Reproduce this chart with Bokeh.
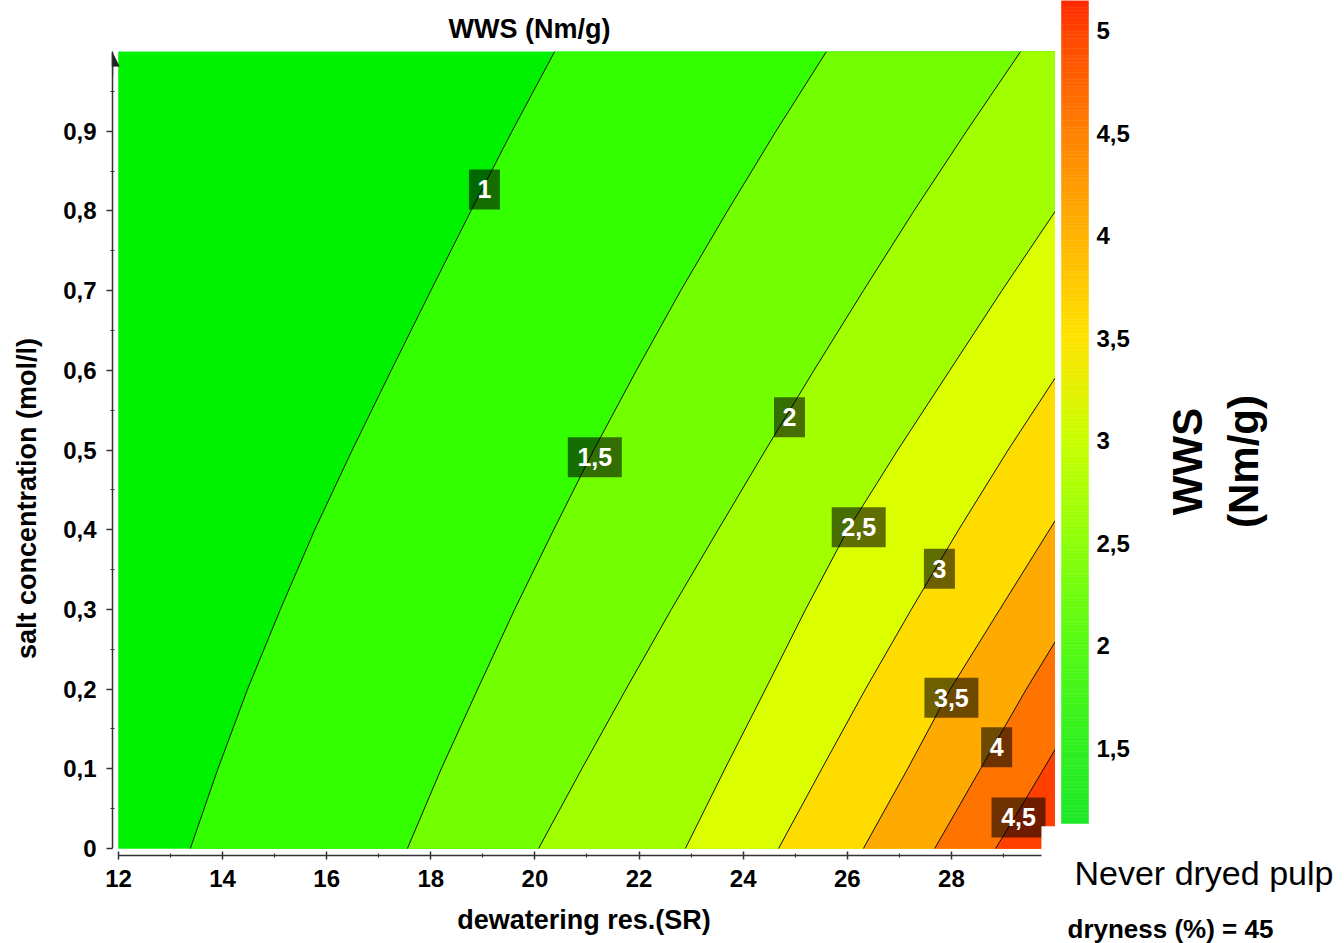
import numpy as np
from bokeh.plotting import figure
from bokeh.layouts import row
from bokeh.models import Range1d, FixedTicker, CustomJSTickFormatter, Arrow, NormalHead, ColumnDataSource
from bokeh.core.properties import value
from bokeh.embed import file_html
from bokeh.resources import INLINE

FONT = "Liberation Sans"

# ---------------- data ----------------
levels = [1, 1.5, 2, 2.5, 3, 3.5, 4, 4.5]
level_labels = ["1", "1,5", "2", "2,5", "3", "3,5", "4", "4,5"]

# contour lines: x (dewatering res. SR) where each level crosses a given y (salt mol/l)
c10_y = [0.0, 0.1, 0.2, 0.3, 0.4, 0.5, 0.6, 0.7, 0.8, 0.9, 1.0]
c10_x = [13.38, 13.91, 14.48, 15.11, 15.77, 16.49, 17.24, 18.00, 18.77, 19.56, 20.38]
c15_y = [0.0, 0.1, 0.2, 0.3, 0.4, 0.5, 0.6, 0.7, 0.8, 0.9, 1.0]
c15_x = [17.55, 18.20, 18.90, 19.61, 20.36, 21.13, 21.95, 22.80, 23.70, 24.63, 25.60]
c20_y = [0.0, 0.1, 0.2, 0.3, 0.4, 0.5, 0.6, 0.7, 0.8, 0.9, 1.0]
c20_x = [20.07, 20.90, 21.75, 22.62, 23.52, 24.43, 25.36, 26.31, 27.28, 28.29, 29.33]
c25_y = [0.0, 0.1, 0.2, 0.3, 0.4, 0.5, 0.6, 0.7, 0.80]
c25_x = [22.89, 23.65, 24.43, 25.20, 26.01, 26.97, 27.97, 28.97, 30.0]
c30_y = [0.0, 0.1, 0.2, 0.3, 0.4, 0.5, 0.591]
c30_x = [24.68, 25.51, 26.35, 27.23, 28.14, 29.09, 30.0]
c35_y = [0.0, 0.1, 0.2, 0.3, 0.412]
c35_x = [26.31, 27.16, 27.98, 28.93, 30.0]
c40_y = [0.0, 0.1, 0.2, 0.26]
c40_x = [27.68, 28.56, 29.44, 30.0]
c45_y = [0.0, 0.06, 0.125]
c45_x = [28.85, 29.41, 30.0]

contour_xs = [c10_x, c15_x, c20_x, c25_x, c30_x, c35_x, c40_x, c45_x]
contour_ys = [c10_y, c15_y, c20_y, c25_y, c30_y, c35_y, c40_y, c45_y]

# label positions (on the lines)
label_x = [19.03, 21.15, 24.89, 26.22, 27.77, 28.00, 28.87, 29.29]
label_y = [0.827, 0.491, 0.541, 0.403, 0.351, 0.189, 0.127, 0.039]

# band fill colours (below first level, then above each level)
band_colors = ["#00f200", "#33ff00", "#74ff00", "#a2ff00", "#dcff00",
               "#ffdc00", "#ffaa00", "#ff7300", "#ff4000"]

x_ticks = [12, 14, 16, 18, 20, 22, 24, 26, 28]
x_minor = [13, 15, 17, 19, 21, 23, 25, 27, 29]
y_ticks = [0.0, 0.1, 0.2, 0.3, 0.4, 0.5, 0.6, 0.7, 0.8, 0.9]
y_minor = [0.05, 0.15, 0.25, 0.35, 0.45, 0.55, 0.65, 0.75, 0.85, 0.95]

cb_ticks = [1.5, 2, 2.5, 3, 3.5, 4, 4.5, 5]
cb_tick_labels = ["1,5", "2", "2,5", "3", "3,5", "4", "4,5", "5"]
cb_lo, cb_hi = 1.134, 5.146
cb_anchor_v = [1.134, 1.5, 2.0, 2.5, 3.0, 3.5, 4.0, 4.5, 5.0, 5.146]
cb_anchor_c = ["#1ee828", "#30f020", "#55fa14", "#8cff0a", "#c8ff00",
               "#ffe400", "#ffb400", "#ff8200", "#ff4400", "#ff2800"]

X0, X1, Y0, Y1 = 12.0, 30.0, 0.0, 1.0

# ---------------- main contour figure ----------------
p = figure(width=1055, height=943, x_range=Range1d(11.885, 30.0),
           y_range=Range1d(-0.00878, 1.0), output_backend="svg",
           toolbar_location=None, min_border_left=112, min_border_right=0,
           min_border_top=51, min_border_bottom=88)
p.frame_align = False
p.grid.visible = False
p.outline_line_color = None
p.background_fill_color = "white"

# filled bands: base box, then region right of each contour line (painted in order)
bxs = [[X0, X1, X1, X0]]
bys = [[Y0, Y0, Y1, Y1]]
for cx, cy in zip(contour_xs, contour_ys):
    bxs.append(list(cx) + [X1, X1])
    bys.append(list(cy) + [cy[-1], Y0])
p.patches(xs="xs", ys="ys", fill_color="c", line_color="c", line_width=0.5,
          source=ColumnDataSource(dict(xs=bxs, ys=bys, c=band_colors)))

p.multi_line(xs=contour_xs, ys=contour_ys, line_color="#111111", line_width=1)

box_w = [31 if len(t) == 1 else 54 for t in level_labels]
lab_src = ColumnDataSource(dict(x=label_x, y=label_y, t=level_labels, w=box_w))
p.rect(x="x", y="y", width="w", height=40, width_units="screen", height_units="screen",
       fill_color="black", fill_alpha=0.57, line_color=None, source=lab_src)
p.text(x="x", y="y", text="t", source=lab_src, text_color="white",
       text_font=value(FONT), text_font_style="bold", text_font_size="25px",
       text_align="center", text_baseline="middle")

# white label box of the side text overlapping the corner
p.quad(left=29.73, right=30.0, bottom=-0.01, top=0.028, fill_color="white", line_color=None)

# y-axis arrow head
p.add_layout(Arrow(end=NormalHead(size=13, fill_color="#222222", line_color="#222222"),
                   x_start=11.885, y_start=0.97, x_end=11.885, y_end=0.998,
                   line_color="#333333", line_width=1.5))

p.title.text = "WWS (Nm/g)"
p.title.text_font = FONT
p.title.text_font_size = "27px"
p.title.text_font_style = "bold"
p.title.text_color = "black"
p.title.align = "left"
p.title.offset = 336
p.title.standoff = 15

for ax in (p.xaxis[0], p.yaxis[0]):
    ax.axis_line_color = "#333333"
    ax.axis_line_width = 1.5
    ax.major_tick_line_color = "#333333"
    ax.major_tick_line_width = 1.5
    ax.minor_tick_line_color = "#333333"
    ax.minor_tick_line_width = 1.2
    ax.major_label_text_font = FONT
    ax.major_label_text_font_size = "24px"
    ax.major_label_text_font_style = "bold"
    ax.major_label_text_color = "black"
    ax.axis_label_text_font = FONT
    ax.axis_label_text_font_size = "27px"
    ax.axis_label_text_font_style = "bold"
    ax.axis_label_text_color = "black"

xa = p.xaxis[0]
xa.ticker = FixedTicker(ticks=x_ticks, minor_ticks=x_minor)
xa.bounds = (12, 29.73)
xa.major_tick_in = 4
xa.major_tick_out = 4
xa.minor_tick_in = 2
xa.minor_tick_out = 2
xa.major_label_standoff = 10
xa.axis_label = "dewatering res.(SR)"
xa.axis_label_standoff = 15

ya = p.yaxis[0]
ya.ticker = FixedTicker(ticks=y_ticks, minor_ticks=y_minor)
ya.bounds = (0, 1)
ya.major_tick_in = 0
ya.major_tick_out = 6
ya.minor_tick_in = 2
ya.minor_tick_out = 2
ya.major_label_standoff = 10
# trailing no-break spaces move the visible text down, as in the reference
ya.axis_label = "salt concentration (mol/l)" + "\u00a0" * 12
ya.axis_label_standoff = 18
ya.formatter = CustomJSTickFormatter(
    code="if (Math.abs(tick) < 1e-9) { return '0'; } return tick.toFixed(1).replace('.', ',');")

# ---------------- side panel: colour bar and notes ----------------
q = figure(width=289, height=943, x_range=Range1d(0, 289), y_range=Range1d(0, 943),
           x_axis_type=None, y_axis_type=None, output_backend="svg",
           toolbar_location=None, min_border=0)
q.frame_align = False
q.grid.visible = False
q.outline_line_color = None
q.extra_y_ranges = {"cb": Range1d(0.549, 5.146)}


def interp_colors(vals, av, ac):
    rgb = np.array([[int(h[i:i + 2], 16) for i in (1, 3, 5)] for h in ac], dtype=float)
    out = []
    for v in vals:
        r, g, b = (int(round(np.interp(v, av, rgb[:, k]))) for k in range(3))
        out.append("#%02x%02x%02x" % (r, g, b))
    return out


steps = np.linspace(cb_lo, cb_hi, 241)
mids = (steps[:-1] + steps[1:]) / 2
cols = interp_colors(mids, cb_anchor_v, cb_anchor_c)
q.quad(left=6, right=33, bottom=steps[:-1], top=steps[1:], fill_color=cols,
       line_color=cols, line_width=0.5, y_range_name="cb")
q.text(x=[41] * len(cb_ticks), y=cb_ticks, text=cb_tick_labels, y_range_name="cb",
       text_font=value(FONT), text_font_style="bold", text_font_size="24px",
       text_color="black", text_align="left", text_baseline="middle")

q.text(x=[132, 188], y=[482, 482], text=["WWS", "(Nm/g)"], angle=np.pi / 2,
       text_font=value(FONT), text_font_style="bold", text_font_size="42px",
       text_color="black", text_align="center", text_baseline="middle")
q.text(x=[19], y=[71], text=["Never dryed pulp"], text_font=value(FONT),
       text_font_size="34px", text_color="black", text_align="left",
       text_baseline="alphabetic")
q.text(x=[12], y=[15], text=["dryness (%) = 45"], text_font=value(FONT),
       text_font_style="bold", text_font_size="26px", text_color="black",
       text_align="left", text_baseline="middle", y_offset=0)

layout = row(p, q)
open("out.html", "w").write(file_html(layout, INLINE))
